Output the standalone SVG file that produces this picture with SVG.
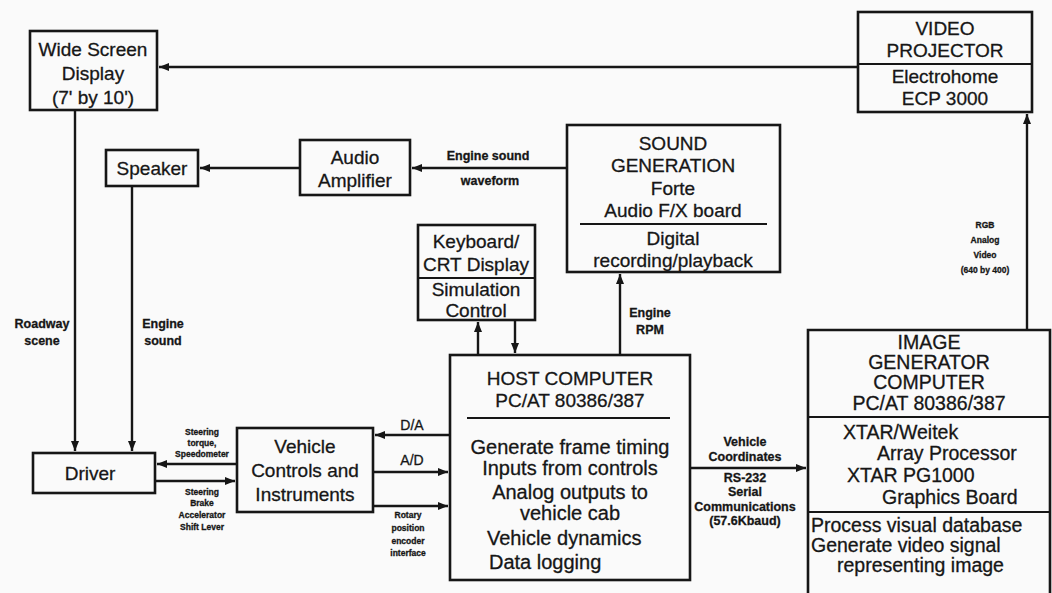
<svg xmlns="http://www.w3.org/2000/svg" width="1052" height="593" viewBox="0 0 1052 593">
<defs>
<style>
.box{fill:none;stroke:#161616;stroke-width:2.6}
.div{stroke:#161616;stroke-width:1.8}
.ln{fill:none;stroke:#161616;stroke-width:2.4}
text{stroke:#161616;stroke-width:0.3}
.t{font-family:"Liberation Sans",Arial,sans-serif;font-size:19px;fill:#161616;text-anchor:middle}
.tl{font-family:"Liberation Sans",Arial,sans-serif;font-size:20px;fill:#161616}
.ig{font-family:"Liberation Sans",Arial,sans-serif;font-size:19.5px;fill:#161616}
.lb{font-family:"Liberation Sans",Arial,sans-serif;font-size:12.5px;font-weight:bold;fill:#161616;text-anchor:middle}
.sm{font-family:"Liberation Sans",Arial,sans-serif;font-size:8.5px;font-weight:bold;fill:#161616;text-anchor:middle}
</style>
<marker id="ah" markerUnits="userSpaceOnUse" markerWidth="12" markerHeight="10" refX="10" refY="4" orient="auto">
<path d="M0,0 L10,4 L0,8 z" fill="#161616"/>
</marker>
</defs>
<rect width="1052" height="593" fill="#fafafa"/>

<g id="connectors">
<path class="ln" d="M858,67 L159,67" marker-end="url(#ah)"/>
<path class="ln" d="M75,110 L75,451" marker-end="url(#ah)"/>
<path class="ln" d="M132,186 L132,451" marker-end="url(#ah)"/>
<path class="ln" d="M300,168 L200,168" marker-end="url(#ah)"/>
<path class="ln" d="M567,168 L412,168" marker-end="url(#ah)"/>
<path class="ln" d="M620,355 L620,274" marker-end="url(#ah)"/>
<path class="ln" d="M478,355 L478,322" marker-end="url(#ah)"/>
<path class="ln" d="M515,320 L515,353" marker-end="url(#ah)"/>
<path class="ln" d="M450,435 L375,435" marker-end="url(#ah)"/>
<path class="ln" d="M373,472 L448,472" marker-end="url(#ah)"/>
<path class="ln" d="M373,506 L448,506" marker-end="url(#ah)"/>
<path class="ln" d="M237,464 L157,464" marker-end="url(#ah)"/>
<path class="ln" d="M155,481 L235,481" marker-end="url(#ah)"/>
<path class="ln" d="M690,468 L806,468" marker-end="url(#ah)"/>
<path class="ln" d="M1027,330 L1027,114" marker-end="url(#ah)"/>

<text class="lb" x="42" y="328">Roadway</text>
<text class="lb" x="42" y="345">scene</text>
<text class="lb" x="163" y="328">Engine</text>
<text class="lb" x="163" y="345">sound</text>
<text class="lb" x="488" y="160">Engine sound</text>
<text class="lb" x="490" y="185">waveform</text>
<text class="lb" x="650" y="317">Engine</text>
<text class="lb" x="650" y="334">RPM</text>
<text class="sm" x="985" y="228">RGB</text>
<text class="sm" x="985" y="243">Analog</text>
<text class="sm" x="985" y="258">Video</text>
<text class="sm" x="985" y="273">(640 by 400)</text>
<text class="t" style="font-size:14px" x="412" y="430">D/A</text>
<text class="t" style="font-size:14px" x="412" y="465">A/D</text>
<text class="sm" x="408" y="518">Rotary</text>
<text class="sm" x="408" y="531">position</text>
<text class="sm" x="408" y="544">encoder</text>
<text class="sm" x="408" y="556">interface</text>
<text class="sm" x="202" y="435">Steering</text>
<text class="sm" x="202" y="446">torque,</text>
<text class="sm" x="202" y="457">Speedometer</text>
<text class="sm" x="202" y="495">Steering</text>
<text class="sm" x="202" y="506">Brake</text>
<text class="sm" x="202" y="518">Accelerator</text>
<text class="sm" x="202" y="530">Shift Lever</text>
<text class="lb" x="745" y="446">Vehicle</text>
<text class="lb" x="745" y="461">Coordinates</text>
<text class="lb" x="745" y="482">RS-232</text>
<text class="lb" x="745" y="496">Serial</text>
<text class="lb" x="745" y="511">Communications</text>
<text class="lb" x="745" y="525">(57.6Kbaud)</text>
</g>

<g id="wide-screen">
<rect class="box" x="30" y="31" width="127" height="79"/>
<text class="t" x="93" y="56">Wide Screen</text>
<text class="t" x="93" y="80">Display</text>
<text class="t" x="93" y="104">(7' by 10')</text>
</g>

<g id="video-projector">
<rect class="box" x="858" y="12" width="174" height="100"/>
<text class="t" x="945" y="35">VIDEO</text>
<text class="t" x="945" y="57">PROJECTOR</text>
<line class="div" x1="858" y1="64" x2="1032" y2="64"/>
<text class="t" x="945" y="83">Electrohome</text>
<text class="t" x="945" y="105">ECP 3000</text>
</g>

<g id="speaker">
<rect class="box" x="106" y="150" width="92" height="36"/>
<text class="t" x="152" y="175">Speaker</text>
</g>

<g id="audio-amplifier">
<rect class="box" x="300" y="140" width="110" height="55"/>
<text class="t" x="355" y="164">Audio</text>
<text class="t" x="355" y="187">Amplifier</text>
</g>

<g id="sound-generation">
<rect class="box" x="567" y="125" width="213" height="147"/>
<text class="t" x="673" y="150">SOUND</text>
<text class="t" x="673" y="172">GENERATION</text>
<text class="t" x="673" y="195">Forte</text>
<text class="t" x="673" y="217">Audio F/X board</text>
<line class="div" x1="580" y1="224" x2="767" y2="224"/>
<text class="t" x="673" y="245">Digital</text>
<text class="t" x="673" y="267">recording/playback</text>
</g>

<g id="keyboard">
<rect class="box" x="418" y="225" width="117" height="95"/>
<text class="t" x="476" y="248">Keyboard/</text>
<text class="t" x="476" y="271">CRT Display</text>
<line class="div" x1="418" y1="278" x2="535" y2="278"/>
<text class="t" x="476" y="296">Simulation</text>
<text class="t" x="476" y="317">Control</text>
</g>

<g id="host-computer">
<rect class="box" x="450" y="355" width="240" height="225"/>
<text class="t" x="570" y="385">HOST COMPUTER</text>
<text class="t" x="570" y="407">PC/AT 80386/387</text>
<line class="div" x1="467" y1="418" x2="670" y2="418"/>
<text class="t" style="font-size:20px" x="570" y="454">Generate frame timing</text>
<text class="t" style="font-size:20px" x="570" y="475">Inputs from controls</text>
<text class="t" style="font-size:20px" x="570" y="499">Analog outputs to</text>
<text class="t" style="font-size:20px" x="570" y="520">vehicle cab</text>
<text class="tl" x="487" y="545">Vehicle dynamics</text>
<text class="tl" x="489" y="569">Data logging</text>
</g>

<g id="vehicle-controls">
<rect class="box" x="237" y="428" width="136" height="84"/>
<text class="t" x="305" y="453">Vehicle</text>
<text class="t" x="305" y="477">Controls and</text>
<text class="t" x="305" y="501">Instruments</text>
</g>

<g id="driver">
<rect class="box" x="33" y="453" width="122" height="40"/>
<text class="t" x="90" y="480">Driver</text>
</g>

<g id="image-generator">
<path class="box" d="M808,600 L808,330 L1050,330 L1050,600"/>
<text class="ig" text-anchor="middle" x="929" y="349">IMAGE</text>
<text class="ig" text-anchor="middle" x="929" y="369">GENERATOR</text>
<text class="ig" text-anchor="middle" x="929" y="389">COMPUTER</text>
<text class="ig" text-anchor="middle" x="929" y="410">PC/AT 80386/387</text>
<line class="div" x1="808" y1="417" x2="1050" y2="417"/>
<text class="ig" x="843" y="439">XTAR/Weitek</text>
<text class="ig" x="877" y="460">Array Processor</text>
<text class="ig" x="847" y="482">XTAR PG1000</text>
<text class="ig" x="882" y="504">Graphics Board</text>
<line class="div" x1="808" y1="512" x2="1050" y2="512"/>
<text class="ig" x="811" y="532">Process visual database</text>
<text class="ig" x="811" y="552">Generate video signal</text>
<text class="ig" x="837" y="572">representing image</text>
</g>
</svg>
